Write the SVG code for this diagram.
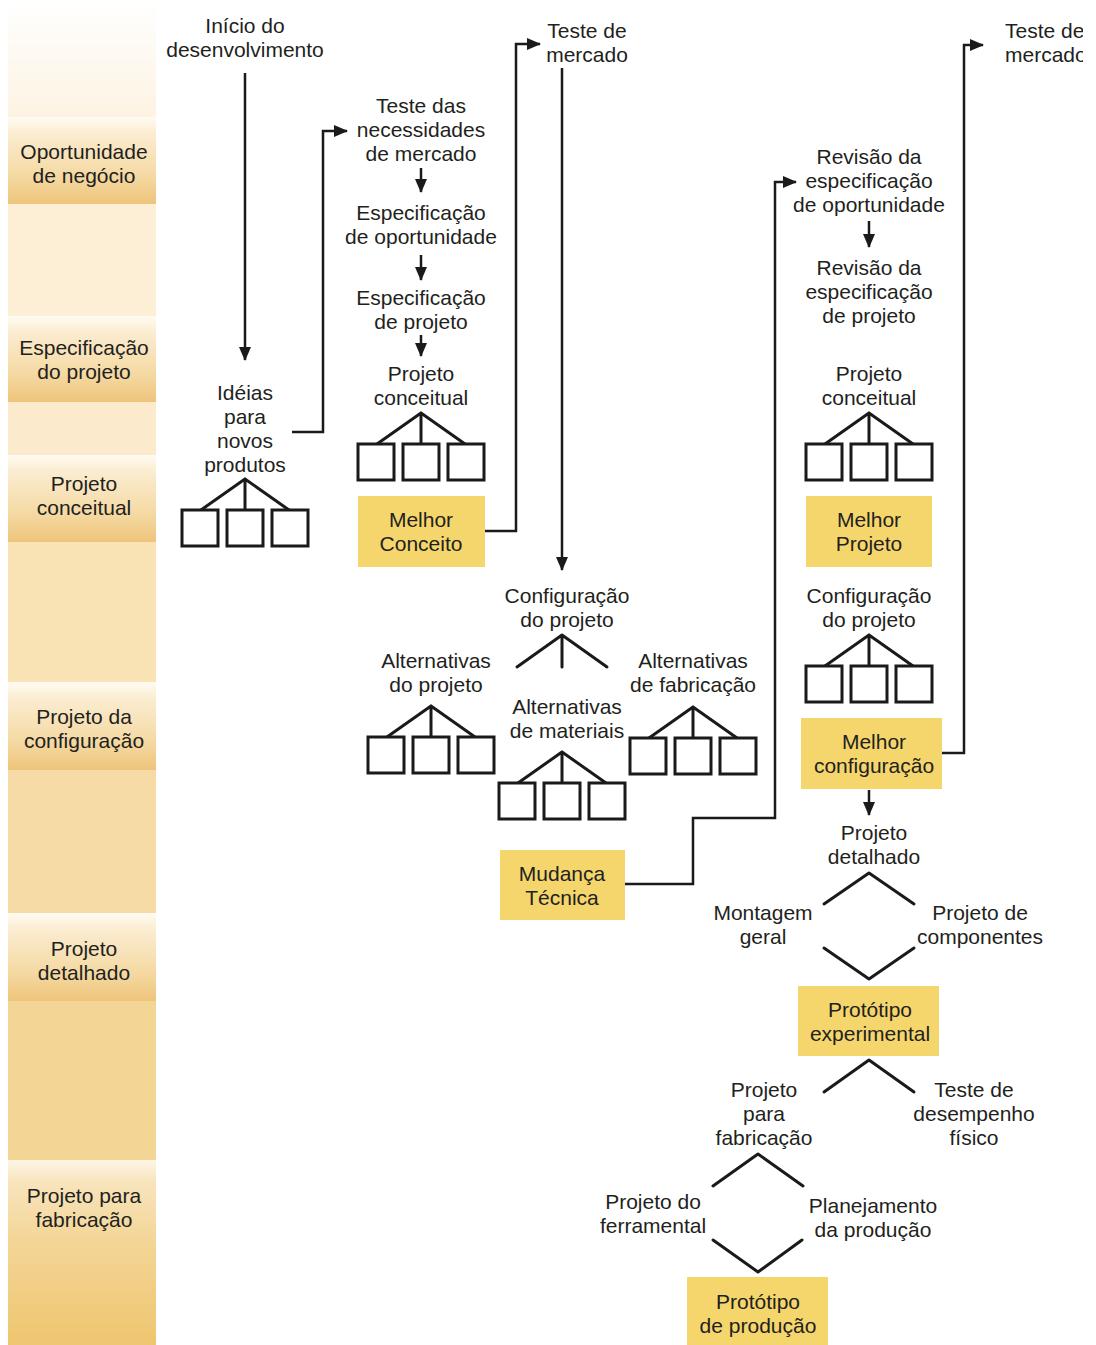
<svg xmlns="http://www.w3.org/2000/svg" xmlns:xlink="http://www.w3.org/1999/xlink" width="1096" height="1345" viewBox="0 0 1096 1345">
  <style>
    .t { font-family: "Liberation Sans", Arial, sans-serif; font-size: 21px; fill: #231f20; text-anchor: middle; }
    .ts { text-anchor: start; }
    .ln { stroke: #1a1a1a; stroke-width: 2.5; fill: none; }
    .tr { stroke: #1a1a1a; stroke-width: 3; fill: none; stroke-linecap: round; stroke-linejoin: round; }
    .bx { fill: #ffffff; stroke: #1a1a1a; stroke-width: 3; }
    .hl { fill: #f5d66c; }
  </style>
  <defs>
    <marker id="ah" viewBox="0 0 14 12" refX="13" refY="6" markerWidth="14" markerHeight="12" markerUnits="userSpaceOnUse" orient="auto">
      <path d="M0,0 L14,6 L0,12 z" fill="#1a1a1a"/>
    </marker>
    <!-- phase band: light at the top, golden at the bottom -->
    <linearGradient id="band" x1="0" y1="0" x2="0" y2="1">
      <stop offset="0" stop-color="#fffbf3"/>
      <stop offset="0.18" stop-color="#fbedd2"/>
      <stop offset="0.7" stop-color="#f4d8a0"/>
      <stop offset="1" stop-color="#eec47a"/>
    </linearGradient>
    <linearGradient id="bandLong" x1="0" y1="0" x2="0" y2="1">
      <stop offset="0" stop-color="#fdf6e6"/>
      <stop offset="0.12" stop-color="#f8e4bc"/>
      <stop offset="0.45" stop-color="#f3d595"/>
      <stop offset="1" stop-color="#efc670"/>
    </linearGradient>
    <linearGradient id="topFill" x1="0" y1="0" x2="0" y2="1">
      <stop offset="0" stop-color="#ffffff"/>
      <stop offset="1" stop-color="#fdf3e2"/>
    </linearGradient>
    <clipPath id="page">
      <rect x="0" y="0" width="1083" height="1345"/>
    </clipPath>
    <!-- three alternatives hanging from one point -->
    <g id="tree">
      <path class="tr" d="M0,0 L-44,31 M0,0 L0,31 M0,0 L44,31"/>
      <rect class="bx" x="-63" y="31" width="36" height="36"/>
      <rect class="bx" x="-18" y="31" width="36" height="36"/>
      <rect class="bx" x="27" y="31" width="36" height="36"/>
    </g>
  </defs>

  <rect x="0" y="0" width="1096" height="1345" fill="#ffffff"/>

  <!-- phase column -->
  <g id="phases">
    <rect x="8" y="0" width="148" height="117" fill="url(#topFill)"/>
    <rect x="8" y="204" width="148" height="112" fill="#fcefd6"/>
    <rect x="8" y="402" width="148" height="53" fill="#fbeacb"/>
    <rect x="8" y="542" width="148" height="140" fill="#f9e3b5"/>
    <rect x="8" y="770" width="148" height="143" fill="#f6dba6"/>
    <rect x="8" y="1001" width="148" height="159" fill="#f3d596"/>
    <g id="phase-oportunidade">
      <rect x="8" y="117" width="148" height="87" fill="url(#band)"/>
      <text class="t" x="84" y="159">Oportunidade</text>
      <text class="t" x="84" y="183">de negócio</text>
    </g>
    <g id="phase-especificacao">
      <rect x="8" y="316" width="148" height="86" fill="url(#band)"/>
      <text class="t" x="84" y="355">Especificação</text>
      <text class="t" x="84" y="379">do projeto</text>
    </g>
    <g id="phase-conceitual">
      <rect x="8" y="455" width="148" height="87" fill="url(#band)"/>
      <text class="t" x="84" y="491">Projeto</text>
      <text class="t" x="84" y="515">conceitual</text>
    </g>
    <g id="phase-configuracao">
      <rect x="8" y="682" width="148" height="88" fill="url(#band)"/>
      <text class="t" x="84" y="724">Projeto da</text>
      <text class="t" x="84" y="748">configuração</text>
    </g>
    <g id="phase-detalhado">
      <rect x="8" y="913" width="148" height="88" fill="url(#band)"/>
      <text class="t" x="84" y="956">Projeto</text>
      <text class="t" x="84" y="980">detalhado</text>
    </g>
    <g id="phase-fabricacao">
      <rect x="8" y="1160" width="148" height="185" fill="url(#bandLong)"/>
      <text class="t" x="84" y="1203">Projeto para</text>
      <text class="t" x="84" y="1227">fabricação</text>
    </g>
  </g>

  <g clip-path="url(#page)">
    <!-- connectors -->
    <g id="connectors">
      <path class="ln" d="M245,73 V360" marker-end="url(#ah)"/>
      <path class="ln" d="M292,432 H323 V131 H347" marker-end="url(#ah)"/>
      <path class="ln" d="M421,168 V192" marker-end="url(#ah)"/>
      <path class="ln" d="M421,255 V280" marker-end="url(#ah)"/>
      <path class="ln" d="M421,335 V356" marker-end="url(#ah)"/>
      <path class="ln" d="M485,531 H516 V44 H540" marker-end="url(#ah)"/>
      <path class="ln" d="M562,68 V570" marker-end="url(#ah)"/>
      <path class="ln" d="M625,884 H693 V818 H775 V182 H796" marker-end="url(#ah)"/>
      <path class="ln" d="M869,221 V247" marker-end="url(#ah)"/>
      <path class="ln" d="M942,753 H964 V45 H983" marker-end="url(#ah)"/>
      <path class="ln" d="M869,790 V815" marker-end="url(#ah)"/>
    </g>

    <g id="inicio">
      <text class="t" x="245" y="33">Início do</text>
      <text class="t" x="245" y="57">desenvolvimento</text>
    </g>

    <g id="ideias">
      <text class="t" x="245" y="400">Idéias</text>
      <text class="t" x="245" y="424">para</text>
      <text class="t" x="245" y="448">novos</text>
      <text class="t" x="245" y="472">produtos</text>
      <use xlink:href="#tree" x="245" y="479"/>
    </g>

    <g id="teste-necessidades">
      <text class="t" x="421" y="113">Teste das</text>
      <text class="t" x="421" y="137">necessidades</text>
      <text class="t" x="421" y="161">de mercado</text>
    </g>

    <g id="espec-oportunidade">
      <text class="t" x="421" y="220">Especificação</text>
      <text class="t" x="421" y="244">de oportunidade</text>
    </g>

    <g id="espec-projeto">
      <text class="t" x="421" y="305">Especificação</text>
      <text class="t" x="421" y="329">de projeto</text>
    </g>

    <g id="conceitual-1">
      <text class="t" x="421" y="381">Projeto</text>
      <text class="t" x="421" y="405">conceitual</text>
      <use xlink:href="#tree" x="421" y="413"/>
    </g>

    <g id="melhor-conceito">
      <rect class="hl" x="358" y="496" width="127" height="71"/>
      <text class="t" x="421" y="527">Melhor</text>
      <text class="t" x="421" y="551">Conceito</text>
    </g>

    <g id="teste-mercado-1">
      <text class="t" x="587" y="38">Teste de</text>
      <text class="t" x="587" y="62">mercado</text>
    </g>

    <g id="configuracao-1">
      <text class="t" x="567" y="603">Configuração</text>
      <text class="t" x="567" y="627">do projeto</text>
      <path class="tr" d="M517,667 L562,635 L607,667 M562,635 V667"/>
    </g>

    <g id="alt-projeto">
      <text class="t" x="436" y="668">Alternativas</text>
      <text class="t" x="436" y="692">do projeto</text>
      <use xlink:href="#tree" x="431" y="706"/>
    </g>

    <g id="alt-materiais">
      <text class="t" x="567" y="714">Alternativas</text>
      <text class="t" x="567" y="738">de materiais</text>
      <use xlink:href="#tree" x="562" y="752"/>
    </g>

    <g id="alt-fabricacao">
      <text class="t" x="693" y="668">Alternativas</text>
      <text class="t" x="693" y="692">de fabricação</text>
      <use xlink:href="#tree" x="693" y="707"/>
    </g>

    <g id="mudanca-tecnica">
      <rect class="hl" x="500" y="850" width="125" height="70"/>
      <text class="t" x="562" y="881">Mudança</text>
      <text class="t" x="562" y="905">Técnica</text>
    </g>

    <g id="revisao-oportunidade">
      <text class="t" x="869" y="164">Revisão da</text>
      <text class="t" x="869" y="188">especificação</text>
      <text class="t" x="869" y="212">de oportunidade</text>
    </g>

    <g id="revisao-projeto">
      <text class="t" x="869" y="275">Revisão da</text>
      <text class="t" x="869" y="299">especificação</text>
      <text class="t" x="869" y="323">de projeto</text>
    </g>

    <g id="conceitual-2">
      <text class="t" x="869" y="381">Projeto</text>
      <text class="t" x="869" y="405">conceitual</text>
      <use xlink:href="#tree" x="869" y="413"/>
    </g>

    <g id="melhor-projeto">
      <rect class="hl" x="806" y="496" width="126" height="71"/>
      <text class="t" x="869" y="527">Melhor</text>
      <text class="t" x="869" y="551">Projeto</text>
    </g>

    <g id="configuracao-2">
      <text class="t" x="869" y="603">Configuração</text>
      <text class="t" x="869" y="627">do projeto</text>
      <use xlink:href="#tree" x="869" y="635"/>
    </g>

    <g id="melhor-configuracao">
      <rect class="hl" x="801" y="718" width="141" height="71"/>
      <text class="t" x="874" y="749">Melhor</text>
      <text class="t" x="874" y="773">configuração</text>
    </g>

    <g id="teste-mercado-2">
      <text class="t ts" x="1005" y="38">Teste de</text>
      <text class="t ts" x="1005" y="62">mercado</text>
    </g>

    <g id="detalhado">
      <text class="t" x="874" y="840">Projeto</text>
      <text class="t" x="874" y="864">detalhado</text>
      <path class="tr" d="M824,904 L869,873 L914,904"/>
      <path class="tr" d="M824,948 L869,979 L914,948"/>
    </g>

    <g id="montagem">
      <text class="t" x="763" y="920">Montagem</text>
      <text class="t" x="763" y="944">geral</text>
    </g>

    <g id="componentes">
      <text class="t" x="980" y="920">Projeto de</text>
      <text class="t" x="980" y="944">componentes</text>
    </g>

    <g id="prototipo-experimental">
      <rect class="hl" x="798" y="986" width="141" height="70"/>
      <text class="t" x="870" y="1017">Protótipo</text>
      <text class="t" x="870" y="1041">experimental</text>
      <path class="tr" d="M824,1092 L869,1060 L914,1092"/>
    </g>

    <g id="para-fabricacao">
      <text class="t" x="764" y="1097">Projeto</text>
      <text class="t" x="764" y="1121">para</text>
      <text class="t" x="764" y="1145">fabricação</text>
      <path class="tr" d="M713,1186 L758,1154 L803,1186"/>
      <path class="tr" d="M713,1240 L758,1272 L802,1240"/>
    </g>

    <g id="teste-desempenho">
      <text class="t" x="974" y="1097">Teste de</text>
      <text class="t" x="974" y="1121">desempenho</text>
      <text class="t" x="974" y="1145">físico</text>
    </g>

    <g id="ferramental">
      <text class="t" x="653" y="1209">Projeto do</text>
      <text class="t" x="653" y="1233">ferramental</text>
    </g>

    <g id="planejamento">
      <text class="t" x="873" y="1213">Planejamento</text>
      <text class="t" x="873" y="1237">da produção</text>
    </g>

    <g id="prototipo-producao">
      <rect class="hl" x="687" y="1277" width="141" height="70"/>
      <text class="t" x="758" y="1309">Protótipo</text>
      <text class="t" x="758" y="1333">de produção</text>
    </g>
  </g>
</svg>
